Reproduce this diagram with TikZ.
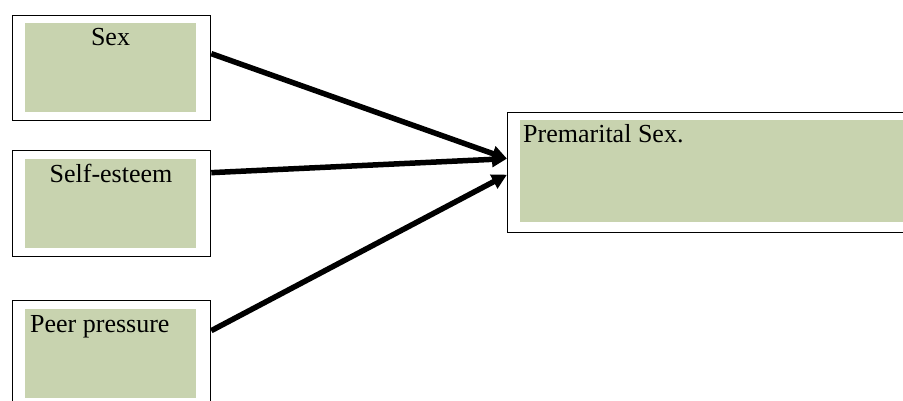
\documentclass[tikz,border=0pt]{standalone}
\usepackage{fontspec}
\setmainfont{Liberation Serif}
\usetikzlibrary{arrows.meta}
\definecolor{boxgreen}{RGB}{200,211,175}
\begin{document}
\begin{tikzpicture}[x=1pt,y=-1pt,
  outerbox/.style={draw=black, line width=1.3pt, fill=white, inner sep=0pt, anchor=north west},
  innerbox/.style={fill=boxgreen, inner sep=0pt, anchor=north west},
  lbl/.style={font=\fontsize{26}{30}\selectfont, inner sep=0pt},
  conn/.style={line width=5.5pt, -{Triangle[length=15pt,width=15pt]}}]
\useasboundingbox (0,0) rectangle (903,401);
\fill[white] (0,0) rectangle (903,401);
% Sex
\node[outerbox, minimum width=198pt, minimum height=105pt] (sexo) at (12,15) {};
\node[innerbox, minimum width=171pt, minimum height=89pt] (sexi) at (25,23) {};
\node[lbl, anchor=base] (sext) at (110.5,46) {Sex};
% Self-esteem
\node[outerbox, minimum width=198pt, minimum height=106pt] (selfo) at (12,150) {};
\node[innerbox, minimum width=171pt, minimum height=89pt] (selfi) at (25,159) {};
\node[lbl, anchor=base] (selft) at (111,183) {Self-esteem};
% Peer pressure
\node[outerbox, minimum width=198pt, minimum height=120pt] (peero) at (12,300) {};
\node[innerbox, minimum width=171pt, minimum height=89pt] (peeri) at (25,309) {};
\node[lbl, anchor=base west] (peert) at (30,332) {Peer pressure};
% Premarital Sex
\node[outerbox, minimum width=400pt, minimum height=120pt] (pmo) at (507,112) {};
\node[innerbox, minimum width=390pt, minimum height=102pt] (pmi) at (520,120) {};
\node[lbl, anchor=base west] (pmt) at (523,143) {Premarital Sex.};
% arrows
\draw[conn] ([yshift=14.5pt]sexo.east) -- ([yshift=14pt]pmo.west);
\draw[conn] ([yshift=31pt]selfo.east) -- ([yshift=14pt]pmo.west);
\draw[conn] ([yshift=30pt]peero.east) -- ([yshift=-2pt]pmo.west);
\end{tikzpicture}
\end{document}
